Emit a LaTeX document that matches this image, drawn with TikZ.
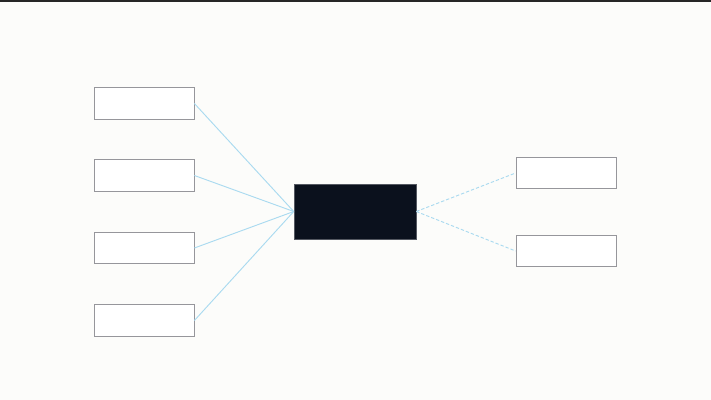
\documentclass[tikz,border=0pt]{standalone}
\usepackage{xcolor}
\definecolor{bgcol}{RGB}{252,252,250}
\definecolor{hubcol}{RGB}{11,17,29}
\definecolor{linkcol}{RGB}{170,218,240}
\definecolor{framecol}{RGB}{150,150,155}
\tikzset{
  leaf/.style={draw=framecol, fill=white, line width=0.6pt, minimum width=75pt, minimum height=23.5pt, inner sep=0pt},
  hub/.style={draw=hubcol!70!white, fill=hubcol, minimum width=91.5pt, minimum height=41.5pt, inner sep=0pt},
  link/.style={draw=linkcol, line width=0.7pt}
}
\begin{document}
\begin{tikzpicture}[x=0.75pt,y=0.75pt,yscale=-1,xscale=1]

\fill [bgcol] (0,0) rectangle (711,400);
\useasboundingbox (0,0) rectangle (711,400);
\fill [black!85] (0,0) rectangle (711,2);

% left boxes
\node [leaf] (in1) at (144,103.5) {};
\node [leaf] (in2) at (144,175.5) {};
\node [leaf] (in3) at (144,248) {};
\node [leaf] (in4) at (144,320.5) {};

% centre
\node [hub] (core) at (355,211.5) {};

% right boxes
\node [leaf] (out1) at (566,173) {};
\node [leaf] (out2) at (566,251) {};

\draw [link] (in1.east) -- (core.west);
\draw [link] (in2.east) -- (core.west);
\draw [link] (in3.east) -- (core.west);
\draw [link] (in4.east) -- (core.west);

\draw [link, dashed, dash pattern=on 2.5pt off 1.5pt] (core.east) -- (out1.west);
\draw [link, dashed, dash pattern=on 2.5pt off 1.5pt] (core.east) -- (out2.west);

\end{tikzpicture}
\end{document}
